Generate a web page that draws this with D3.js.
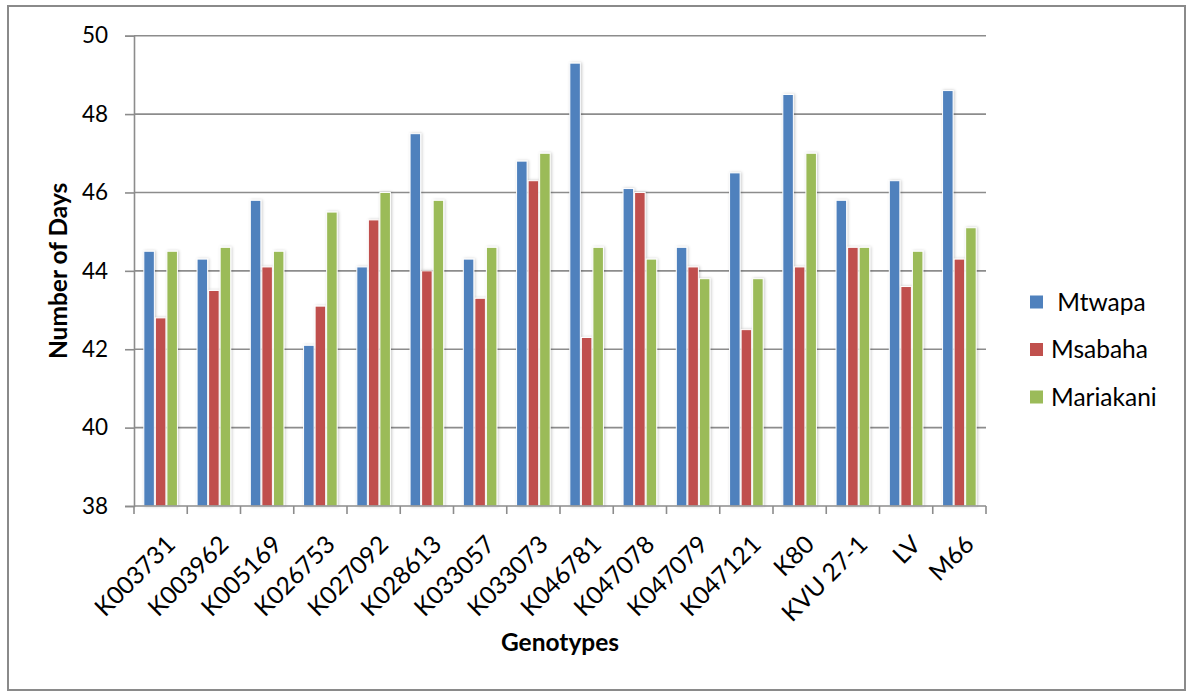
<!DOCTYPE html>
<html>
<head>
<meta charset="utf-8">
<script src="https://cdn.jsdelivr.net/npm/d3@7"></script>
<style>
  html, body { margin: 0; padding: 0; background: #fff; }
  svg { display: block; font-family: Lato, "Open Sans", sans-serif; }
</style>
</head>
<body>
<svg id="chart" width="1187" height="692"></svg>
<script>
// Days to flowering per genotype at three sites
const genotypes = ["K003731", "K003962", "K005169", "K026753", "K027092", "K028613",
  "K033057", "K033073", "K046781", "K047078", "K047079", "K047121", "K80",
  "KVU 27-1", "LV", "M66"];
const seriesNames = [" Mtwapa", "Msabaha", "Mariakani"];
const mtwapa    = [44.5, 44.3, 45.8, 42.1, 44.1, 47.5, 44.3, 46.8, 49.3, 46.1, 44.6, 46.5, 48.5, 45.8, 46.3, 48.6];
const msabaha   = [42.8, 43.5, 44.1, 43.1, 45.3, 44.0, 43.3, 46.3, 42.3, 46.0, 44.1, 42.5, 44.1, 44.6, 43.6, 44.3];
const mariakani = [44.5, 44.6, 44.5, 45.5, 46.0, 45.8, 44.6, 47.0, 44.6, 44.3, 43.8, 43.8, 47.0, 44.6, 44.5, 45.1];
const yTicks = [38, 40, 42, 44, 46, 48, 50];
const colors = ["#4F81BD", "#C0504D", "#9BBB59"];

const seriesValues = [mtwapa, msabaha, mariakani];
const rows = genotypes.map((g, i) => ({
  genotype: g,
  values: seriesNames.map((s, k) => ({ series: s, value: seriesValues[k][i], k }))
}));

const svg = d3.select("#chart");
const plot = { left: 134, right: 986, top: 35.7, bottom: 506 };

// outer frame
svg.append("rect")
  .attr("x", 8).attr("y", 6).attr("width", 1177).attr("height", 684)
  .attr("fill", "#fff").attr("stroke", "#8a8a8a").attr("stroke-width", 2);

const defs = svg.append("defs");
const shadow = defs.append("filter").attr("id", "barShadow")
  .attr("x", "-40%").attr("y", "-5%").attr("width", "180%").attr("height", "110%");
shadow.append("feDropShadow").attr("dx", 1).attr("dy", 0).attr("stdDeviation", 1.6)
  .attr("flood-color", "#000").attr("flood-opacity", 0.22);

const y = d3.scaleLinear().domain([38, 50]).range([plot.bottom, plot.top]);
const x0 = d3.scaleBand().domain(genotypes).range([plot.left, plot.right])
  .paddingInner(0.35).paddingOuter(0.175);
const x1 = d3.scaleBand().domain(seriesNames).range([0, x0.bandwidth()]);

// horizontal gridlines
svg.append("g").selectAll("line").data(yTicks.filter(t => t !== 38)).join("line")
  .attr("x1", plot.left).attr("x2", plot.right)
  .attr("y1", d => y(d)).attr("y2", d => y(d))
  .attr("stroke", "#8c8c8c").attr("stroke-width", 1.6);

// bars
const groups = svg.append("g").selectAll("g").data(rows).join("g")
  .attr("transform", d => `translate(${x0(d.genotype)},0)`);
groups.selectAll("rect").data(d => d.values).join("rect")
  .attr("x", d => x1(d.series) + 0.5)
  .attr("width", x1.bandwidth() - 1)
  .attr("y", d => y(d.value))
  .attr("height", d => y(38) - y(d.value))
  .attr("fill", d => colors[d.k])
  .attr("stroke", "#fff").attr("stroke-width", 1)
  .attr("filter", "url(#barShadow)");

// y axis
const yAxis = svg.append("g").attr("transform", `translate(${plot.left},0)`)
  .call(d3.axisLeft(y).tickValues(yTicks).tickSize(9).tickPadding(17).tickFormat(d3.format("d")));
yAxis.select(".domain").attr("stroke", "#8c8c8c").attr("stroke-width", 1.6);
yAxis.selectAll(".tick line").attr("stroke", "#8c8c8c").attr("stroke-width", 1.6);
yAxis.selectAll(".tick text").attr("font-size", 22.5).attr("fill", "#000")
  .attr("font-family", "Lato, sans-serif");

// x axis: ticks at category boundaries
const step = x0.step();
const boundaries = d3.range(genotypes.length + 1).map(i => plot.left + i * step);
const xAxisG = svg.append("g");
xAxisG.append("line")
  .attr("x1", plot.left).attr("x2", plot.right)
  .attr("y1", plot.bottom).attr("y2", plot.bottom)
  .attr("stroke", "#8c8c8c").attr("stroke-width", 1.6);
xAxisG.selectAll("line.tk").data(boundaries).join("line").attr("class", "tk")
  .attr("x1", d => d).attr("x2", d => d)
  .attr("y1", plot.bottom).attr("y2", plot.bottom + 8)
  .attr("stroke", "#8c8c8c").attr("stroke-width", 1.6);
xAxisG.selectAll("text").data(genotypes).join("text")
  .attr("transform", d => `translate(${x0(d) + x0.bandwidth() / 2 + 10},${plot.bottom + 34}) rotate(-45)`)
  .attr("text-anchor", "end").attr("dy", "0.35em")
  .attr("font-size", 24.5).attr("fill", "#000")
  .text(d => d);

// axis titles
svg.append("text")
  .attr("transform", `translate(67,${(plot.top + plot.bottom) / 2}) rotate(-90)`)
  .attr("text-anchor", "middle").attr("font-size", 24.5).attr("font-weight", "bold")
  .text("Number of Days");
svg.append("text")
  .attr("x", 560).attr("y", 651)
  .attr("text-anchor", "middle").attr("font-size", 24.5).attr("font-weight", "bold")
  .text("Genotypes");

// legend
const legend = svg.append("g").selectAll("g").data(seriesNames).join("g")
  .attr("transform", (d, i) => `translate(1030,${302 + i * 47.5})`);
legend.append("rect")
  .attr("x", 0).attr("y", -6.5).attr("width", 13).attr("height", 13)
  .attr("fill", (d, i) => colors[i]);
legend.append("text")
  .attr("x", 21).attr("dy", "0.35em").attr("font-size", 24.5)
  .style("white-space", "pre")
  .text(d => d);
</script>
</body>
</html>
